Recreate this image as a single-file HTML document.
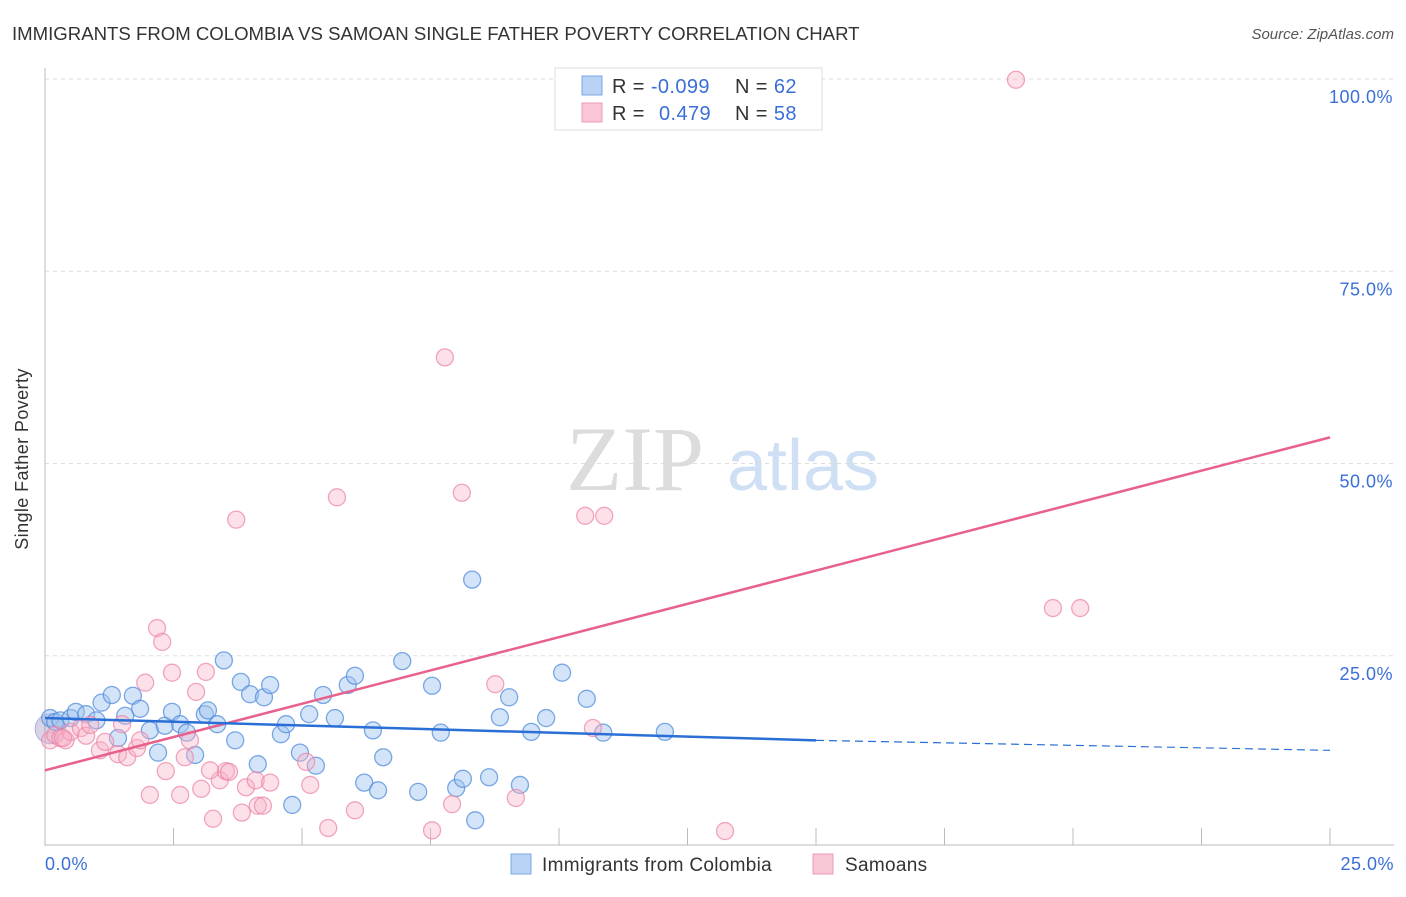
<!DOCTYPE html>
<html><head><meta charset="utf-8"><style>
body{margin:0;background:#fff;font-family:"Liberation Sans",sans-serif}
</style></head><body>
<svg width="1406" height="892" viewBox="0 0 1406 892" xmlns="http://www.w3.org/2000/svg">
<text x="12" y="40" font-size="18.6" fill="#333">IMMIGRANTS FROM COLOMBIA VS SAMOAN SINGLE FATHER POVERTY CORRELATION CHART</text>
<text x="1394" y="39" font-size="15" fill="#555" font-style="italic" text-anchor="end">Source: ZipAtlas.com</text>
<g>
<text x="635" y="490" font-size="92" font-family="Liberation Serif,serif" fill="#dcdcdc" text-anchor="middle">ZIP</text>
<text x="803" y="490" font-size="72" fill="#cfe0f5" text-anchor="middle">atlas</text>
</g>
<g id="grid"></g>
<line x1="45" y1="68" x2="45" y2="846" stroke="#bbb"/>
<line x1="45" y1="845" x2="1394" y2="845" stroke="#bbb"/>
<g id="pts"></g>
<g id="lines"></g>
<text x="25" y="456" font-size="18" fill="#333" text-anchor="middle" letter-spacing="0.4" transform="rotate(-90 28 456)">Single Father Poverty</text>
<text x="45" y="870" font-size="18" fill="#3a6fd8" letter-spacing="0.5">0.0%</text>
<text x="1394" y="870" font-size="18" fill="#3a6fd8" text-anchor="end" letter-spacing="0.5">25.0%</text>
<g>
<rect x="555" y="68" width="267" height="62" fill="#fff" stroke="#ddd"/>
<rect x="582" y="76" width="20" height="19" fill="#b8d3f5" stroke="#7aa8e6"/>
<rect x="582" y="103" width="20" height="19" fill="#f9c6d5" stroke="#ee9bb4"/>
<text x="612" y="93" font-size="20" fill="#333" letter-spacing="0.4">R = <tspan fill="#3a6fd8">-0.099</tspan><tspan x="735">N = </tspan><tspan fill="#3a6fd8">62</tspan></text>
<text x="612" y="120" font-size="20" fill="#333" letter-spacing="0.4">R = <tspan x="659" fill="#3a6fd8">0.479</tspan><tspan x="735">N = </tspan><tspan fill="#3a6fd8">58</tspan></text>
</g>
<g>
<rect x="511" y="854" width="20" height="20" fill="#b8d3f5" stroke="#7aa8e6"/>
<text x="542" y="871" font-size="19" fill="#333" letter-spacing="0.3">Immigrants from Colombia</text>
<rect x="813" y="854" width="20" height="20" fill="#f9c6d5" stroke="#ee9bb4"/>
<text x="845" y="871" font-size="19" fill="#333" letter-spacing="0.3">Samoans</text>
</g>
</svg>
<script>
const yTicks=[25,50,75,100];
const yTickLabels=["25.0%","50.0%","75.0%","100.0%"];
const xTicks=[0,2.5,5,7.5,10,12.5,15,17.5,20,22.5,25];
const blueX=[0.1,0.2,0.3,0.5,0.6,0.8,1.0,1.1,1.3,1.42,1.56,1.71,1.85,2.04,2.2,2.33,2.47,2.63,2.76,2.92,3.11,3.17,3.35,3.48,3.7,3.81,3.99,4.14,4.26,4.38,4.59,4.69,4.81,4.96,5.14,5.27,5.41,5.64,5.89,6.03,6.21,6.38,6.48,6.58,6.95,7.26,7.53,7.7,8.0,8.13,8.31,8.37,8.64,8.85,9.03,9.24,9.46,9.75,10.06,10.54,10.86,12.06];
const blueY=[16.9,16.4,16.6,16.9,17.7,17.4,16.6,18.9,19.9,14.3,17.2,19.8,18.1,15.3,12.4,15.9,17.7,16.1,15.0,12.1,17.4,17.9,16.1,24.4,14.0,21.6,20.0,10.9,19.6,21.2,14.8,16.1,5.6,12.4,17.4,10.7,19.9,16.9,21.2,22.4,8.5,15.3,7.5,11.8,24.3,7.3,21.1,15.0,7.8,9.0,34.9,3.6,9.2,17.0,19.6,8.2,15.1,16.9,22.8,19.4,15.0,15.1];
const pinkX=[0.1,0.2,0.3,0.4,0.5,0.7,0.8,1.07,1.17,1.42,1.5,1.6,1.79,1.95,2.04,2.18,2.28,2.35,2.47,2.63,2.72,2.82,2.94,3.04,3.13,3.27,3.4,3.52,3.58,3.72,3.83,3.91,4.1,4.14,4.24,4.38,5.08,5.16,5.51,5.68,6.03,7.53,7.78,7.92,8.11,8.76,9.16,10.51,10.66,10.88,13.23,18.89,19.61,20.14,0.35,0.88,1.85,3.21];
const pinkY=[14.0,14.7,14.3,14.0,15.1,15.6,14.6,12.7,13.8,12.2,16.1,11.8,13.0,21.5,6.9,28.6,26.8,10.0,22.8,6.9,11.8,14.0,20.3,7.7,22.9,3.8,8.8,10.0,9.9,42.7,4.6,7.9,8.8,5.5,5.5,8.5,11.2,8.2,2.6,45.6,4.9,2.3,63.8,5.7,46.2,21.3,6.5,43.2,15.6,43.2,2.2,99.9,31.2,31.2,14.3,16.0,14.0,10.1];
const blueTrendX=[0,15];const blueTrendY=[16.9,14.0];
const blueDashX=[15,25];const blueDashY=[14.0,12.7];
const pinkTrendX=[0,25];const pinkTrendY=[10.1,53.4];
const NS="http://www.w3.org/2000/svg";
function sx(v){return 45+v/25*1285;}
function sy(v){return 848-v*7.69;}
function mk(t,a,p){const e=document.createElementNS(NS,t);for(const k in a)e.setAttribute(k,a[k]);p.appendChild(e);return e;}
const grid=document.getElementById('grid');
yTicks.forEach((t,i)=>{
 const l=mk('line',{x1:45,x2:1394,y1:sy(t),y2:sy(t),stroke:'#ddd','stroke-dasharray':'4,4'},grid);
 
 
 const tx=mk('text',{x:1393,y:sy(t)+24,'font-size':18,fill:'#3a6fd8','text-anchor':'end','letter-spacing':0.5},grid);
 tx.textContent=yTickLabels[i];
 
 
});
xTicks.forEach(t=>{
 const l=mk('line',{x1:sx(t),x2:sx(t),y1:828,y2:845,stroke:'#bbb'},grid);
 
 
});
const pts=document.getElementById('pts');
const big1=mk('circle',{cx:sx(0.1),cy:sy(15.5),r:15,fill:'rgba(150,130,190,0.35)',stroke:'rgba(120,140,210,0.6)'},pts);


blueX.forEach((x,i)=>{
 const c=mk('circle',{cx:sx(x),cy:sy(blueY[i]),r:8.5,fill:'rgba(160,196,240,0.45)',stroke:'rgba(80,140,220,0.75)','stroke-width':1.3},pts);
 
 
});
pinkX.forEach((x,i)=>{
 const c=mk('circle',{cx:sx(x),cy:sy(pinkY[i]),r:8.5,fill:'rgba(248,180,200,0.4)',stroke:'rgba(235,130,165,0.7)','stroke-width':1.3},pts);
 
 
});
const lines=document.getElementById('lines');
let l1=mk('line',{x1:sx(pinkTrendX[0]),y1:sy(pinkTrendY[0]),x2:sx(pinkTrendX[1]),y2:sy(pinkTrendY[1]),stroke:'#e8608c','stroke-width':2.5},lines);


let l2=mk('line',{x1:sx(blueTrendX[0]),y1:sy(blueTrendY[0]),x2:sx(blueTrendX[1]),y2:sy(blueTrendY[1]),stroke:'#2a6fd6','stroke-width':2.5},lines);


let l3=mk('line',{x1:sx(blueDashX[0]),y1:sy(blueDashY[0]),x2:sx(blueDashX[1]),y2:sy(blueDashY[1]),stroke:'#2a6fd6','stroke-width':1.2,'stroke-dasharray':'8,5'},lines);


</script>
</body></html>
